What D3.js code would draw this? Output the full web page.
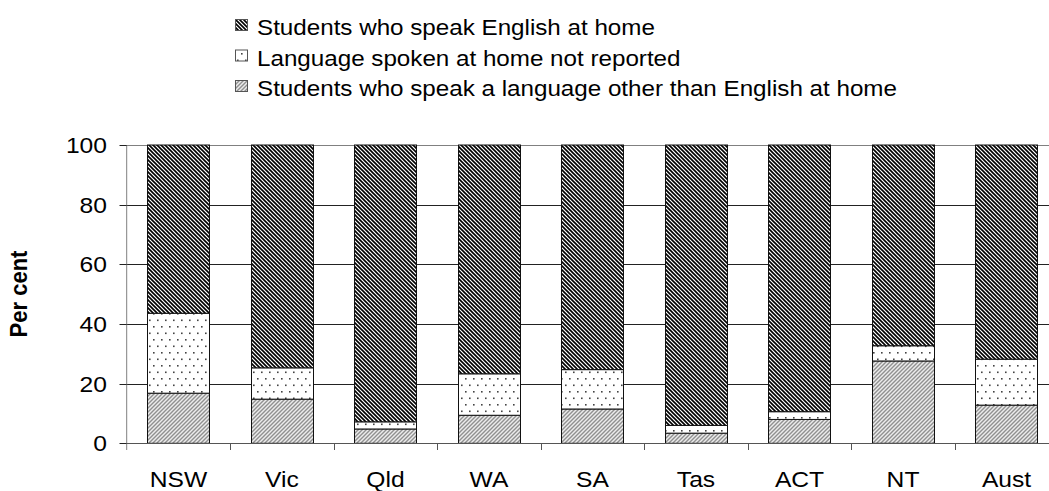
<!DOCTYPE html>
<html>
<head>
<meta charset="utf-8">
<script src="https://cdn.jsdelivr.net/npm/d3@7"></script>
<style>
  html, body { margin: 0; padding: 0; background: #fff; }
  svg { display: block; font-family: "Liberation Sans", Arial, sans-serif; }
</style>
</head>
<body>
<svg id="chart" width="1049" height="491"></svg>
<script>
const categories = ["NSW", "Vic", "Qld", "WA", "SA", "Tas", "ACT", "NT", "Aust"];
const otherLanguage = [16.8, 14.8, 4.8, 9.4, 11.5, 3.4, 8.0, 27.6, 12.8];
const notReported   = [26.8, 10.5, 2.4, 13.9, 13.2, 2.6, 2.6, 5.1, 15.4];
const englishHome   = categories.map((c, i) => +(100 - otherLanguage[i] - notReported[i]).toFixed(1));
const yTicks = [0, 20, 40, 60, 80, 100];
const seriesNames = [
  "Students who speak English at home",
  "Language spoken at home not reported",
  "Students who speak a language other than English at home"
];

const SX = 1.12;   // horizontal stretch of axis text
const SXL = 1.10;  // horizontal stretch of legend text

const svg = d3.select("#chart");
const defs = svg.append("defs");

// Patterns
const pEng = defs.append("pattern").attr("id", "pEng").attr("patternUnits", "userSpaceOnUse")
  .attr("width", 4).attr("height", 4);
pEng.append("rect").attr("width", 4).attr("height", 4).attr("fill", "#fff");
pEng.append("path").attr("d", "M-1,-1L5,5M-1,3L1,5M3,-1L5,1")
  .attr("stroke", "#000").attr("stroke-width", 1.6);

const pOther = defs.append("pattern").attr("id", "pOther").attr("patternUnits", "userSpaceOnUse")
  .attr("width", 4).attr("height", 4);
pOther.append("rect").attr("width", 4).attr("height", 4).attr("fill", "#ececec");
pOther.append("path").attr("d", "M-1,5L5,-1M-1,1L1,-1M3,5L5,3")
  .attr("stroke", "#909090").attr("stroke-width", 1.4);

const pNR = defs.append("pattern").attr("id", "pNR").attr("patternUnits", "userSpaceOnUse")
  .attr("width", 8).attr("height", 13);
pNR.append("rect").attr("width", 8).attr("height", 13).attr("fill", "#fff");
pNR.append("rect").attr("x", 1).attr("y", 1).attr("width", 1.6).attr("height", 1.6).attr("fill", "#444");
pNR.append("rect").attr("x", 5).attr("y", 7.5).attr("width", 1.6).attr("height", 1.6).attr("fill", "#444");

const fills = ["url(#pEng)", "url(#pNR)", "url(#pOther)"];

const x0 = 126.7, x1 = 1058.3, yTop = 145, yBot = 443.3;
const x = d3.scaleBand().domain(categories).range([x0, x1]).paddingInner(0.4).paddingOuter(0.2);
const y = d3.scaleLinear().domain([0, 100]).range([yBot, yTop]);

// gridlines
svg.append("g").selectAll("line").data(yTicks.filter(t => t > 0)).join("line")
  .attr("x1", x0).attr("x2", 1049)
  .attr("y1", d => Math.round(y(d)) + 0.5).attr("y2", d => Math.round(y(d)) + 0.5)
  .attr("stroke", d => d === 100 ? "#808080" : "#222").attr("stroke-width", 1);

// stacked data (bottom to top: other, not reported, english)
const rows = categories.map((c, i) => ({ cat: c, other: otherLanguage[i], nr: notReported[i], eng: englishHome[i] }));
const stack = d3.stack().keys(["other", "nr", "eng"])(rows);
const keyFill = { other: fills[2], nr: fills[1], eng: fills[0] };

const gBars = svg.append("g");
stack.forEach(layer => {
  gBars.append("g").selectAll("rect").data(layer).join("rect")
    .attr("x", d => Math.round(x(d.data.cat)) + 0.5)
    .attr("width", Math.round(x.bandwidth()))
    .attr("y", d => y(d[1]))
    .attr("height", d => y(d[0]) - y(d[1]))
    .attr("fill", keyFill[layer.key])
    .attr("stroke", "#111").attr("stroke-width", 1);
});

// axes
const gy = svg.append("g");
gy.append("line").attr("x1", x0).attr("x2", x0).attr("y1", yTop).attr("y2", 450)
  .attr("stroke", "#808080");
gy.selectAll("line.tk").data(yTicks).join("line").attr("class", "tk")
  .attr("x1", 119.5).attr("x2", x0)
  .attr("y1", d => Math.round(y(d)) + 0.5).attr("y2", d => Math.round(y(d)) + 0.5)
  .attr("stroke", "#222");
gy.selectAll("text").data(yTicks).join("text")
  .attr("transform", d => `translate(107,${y(d)}) scale(${SX},1)`).attr("dy", "0.36em")
  .attr("text-anchor", "end").attr("font-size", 22).attr("fill", "#000")
  .text(d => d);

const gx = svg.append("g");
gx.append("line").attr("x1", x0).attr("x2", 1049).attr("y1", Math.round(yBot) + 0.5).attr("y2", Math.round(yBot) + 0.5)
  .attr("stroke", "#555");
const bounds = categories.slice(1).map(c => x(c) - x.step() * 0.2);
gx.selectAll("line.tk").data(bounds).join("line").attr("class", "tk")
  .attr("x1", d => Math.round(d) + 0.5).attr("x2", d => Math.round(d) + 0.5)
  .attr("y1", yBot).attr("y2", 450).attr("stroke", "#555");
gx.selectAll("text").data(categories).join("text")
  .attr("transform", d => `translate(${x(d) + x.bandwidth() / 2},487) scale(${SX},1)`)
  .attr("text-anchor", "middle").attr("font-size", 22).attr("fill", "#000")
  .text(d => d);

// y label
svg.append("text").attr("transform", "translate(27,294) rotate(-90) scale(1,1.12)")
  .attr("text-anchor", "middle").attr("font-size", 22).attr("font-weight", "bold")
  .text("Per cent");

// legend
const leg = svg.append("g");
seriesNames.forEach((name, i) => {
  const base = 35 + i * 30.5;
  leg.append("rect").attr("x", 235.5).attr("y", base - 15.5).attr("width", 12).attr("height", 11)
    .attr("fill", fills[i]).attr("stroke", "#555").attr("stroke-width", 1);
  leg.append("text").attr("transform", `translate(257,${base}) scale(${SXL},1)`)
    .attr("font-size", 22).attr("fill", "#000").text(name);
});
</script>
</body>
</html>
